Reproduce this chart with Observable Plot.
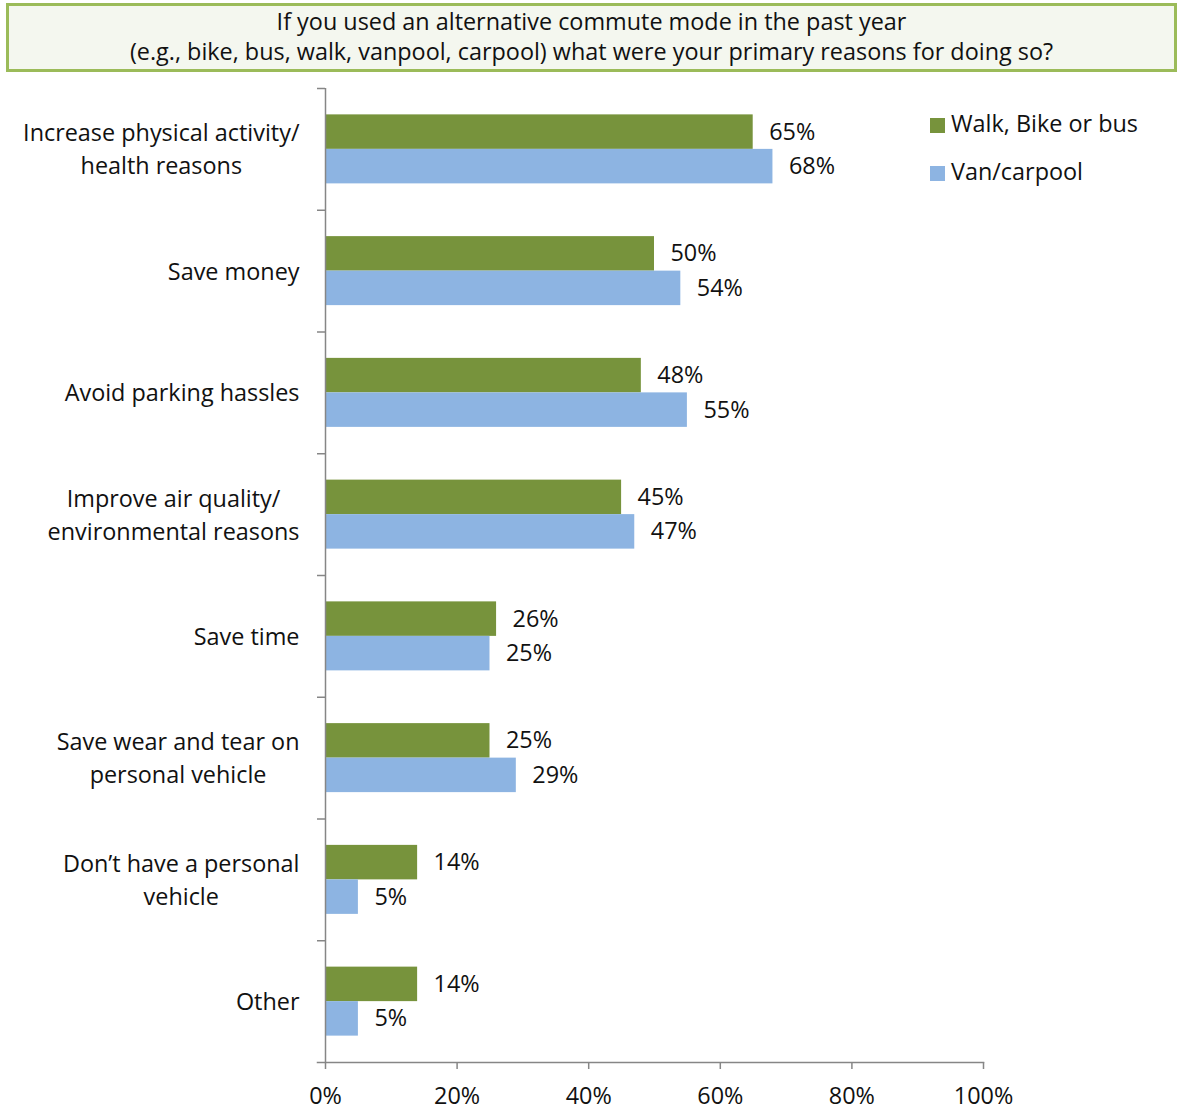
<!DOCTYPE html>
<html>
<head>
<meta charset="utf-8">
<script src="https://cdn.jsdelivr.net/npm/d3@7"></script>
<script src="https://cdn.jsdelivr.net/npm/@observablehq/plot@0.6"></script>
<style>
  html, body { margin: 0; padding: 0; background: #fff; }
  body { width: 1178px; height: 1109px; position: relative; font-family: "Open Sans", Lato, sans-serif; color: #111; }
  #head { position: relative; height: 80px; }
  #title { position: absolute; left: 6px; top: 3px; width: 1165px; height: 63px; border: 3px solid #9BBB59;
           background: #F4F7EF; text-align: center; font-size: 23.4px; line-height: 30px; padding-top: 0px; box-sizing: content-box; }
  #legend { position: absolute; left: 930px; top: 108px; font-size: 23.4px; }
  .li { position: relative; height: 48px; line-height: 30px; white-space: nowrap; }
  .sw { display: inline-block; width: 15px; height: 15px; margin-right: 6px; vertical-align: -1px; }
  #chart svg { display: block; }
</style>
</head>
<body>
<div id="head"><div id="title">If you used an alternative commute mode in the past year<br>(e.g., bike, bus, walk, vanpool, carpool) what were your primary reasons for doing so?</div></div>
<div id="chart"></div>
<div id="legend"></div>
<script>
const categories = [
  "Increase physical activity/\nhealth reasons",
  "Save money",
  "Avoid parking hassles",
  "Improve air quality/\nenvironmental reasons",
  "Save time",
  "Save wear and tear on\npersonal vehicle",
  "Don\u2019t have a personal\nvehicle",
  "Other"
];
const seriesNames = ["Walk, Bike or bus", "Van/carpool"];
const walkBikeBus = [65, 50, 48, 45, 26, 25, 14, 14];
const vanCarpool  = [68, 54, 55, 47, 25, 29, 5, 5];
const seriesColors = ["#77933C", "#8DB4E2"];
const xTicks = [0, 20, 40, 60, 80, 100];

const rows = categories.flatMap((c, i) => [
  {category: c, series: seriesNames[0], value: walkBikeBus[i]},
  {category: c, series: seriesNames[1], value: vanCarpool[i]}
]);
const green = rows.filter(d => d.series === seriesNames[0]);
const blue = rows.filter(d => d.series === seriesNames[1]);

const W = 1178, H = 1029, mTop = 8, mBottom = 47, mLeft = 325, mRight = 195;
const bw = (H - mTop - mBottom) / categories.length;   // band width
const barH = 34.5;
const pad = (bw - 2 * barH) / 2;
const axisGray = "#868686";
const font = "'Open Sans', Lato, sans-serif";

const chart = Plot.plot({
  width: W, height: H,
  marginTop: mTop, marginBottom: mBottom, marginLeft: mLeft, marginRight: mRight,
  style: {fontFamily: font, fontSize: "23.4px", color: "#111", background: "#fff", overflow: "visible"},
  x: {domain: [0, 100], label: null},
  y: {domain: categories, padding: 0, round: false, axis: null, label: null},
  marks: [
    Plot.barX(green, {x: "value", y: "category", fill: seriesColors[0], insetTop: pad, insetBottom: pad + barH}),
    Plot.barX(blue, {x: "value", y: "category", fill: seriesColors[1], insetTop: pad + barH, insetBottom: pad}),
    Plot.text(green, {x: "value", y: "category", text: d => d.value + "%", dx: 16, dy: -barH / 2, textAnchor: "start", fill: "#111"}),
    Plot.text(blue, {x: "value", y: "category", text: d => d.value + "%", dx: 16, dy: barH / 2, textAnchor: "start", fill: "#111"}),
    Plot.text(categories, {y: d => d, frameAnchor: "left", text: d => d, textAnchor: "end", dx: -26, dy: -2, lineHeight: 1.41, fill: "#111"}),
    Plot.ruleX([0], {stroke: axisGray, strokeWidth: 1.5}),
    Plot.ruleY(categories, {y: d => d, x1: 0, x2: 0, insetLeft: -8, dy: -bw / 2, stroke: axisGray, strokeWidth: 1.5}),
    Plot.frame({anchor: "bottom", insetLeft: -8, stroke: axisGray, strokeWidth: 1.5}),
    Plot.axisX({ticks: xTicks, tickFormat: d => d + "%", tickSize: 7, tickPadding: 18, stroke: axisGray, strokeWidth: 1.5, fill: "#111", label: null})
  ]
});
document.getElementById("chart").appendChild(chart);

// centre multi-line category labels like the original (lines centred, block right-aligned)
chart.querySelectorAll("text").forEach(t => {
  const spans = t.querySelectorAll("tspan");
  if (spans.length > 1) {
    let w = 0;
    spans.forEach(s => { w = Math.max(w, s.getComputedTextLength()); });
    t.setAttribute("text-anchor", "middle");
    t.style.textAnchor = "middle";
    spans.forEach(s => s.setAttribute("x", -w / 2));
  }
});

const legend = document.getElementById("legend");
seriesNames.forEach((s, i) => {
  const div = document.createElement("div");
  div.className = "li";
  div.innerHTML = `<span class="sw" style="background:${seriesColors[i]}"></span>${s}`;
  legend.appendChild(div);
});
</script>
</body>
</html>
